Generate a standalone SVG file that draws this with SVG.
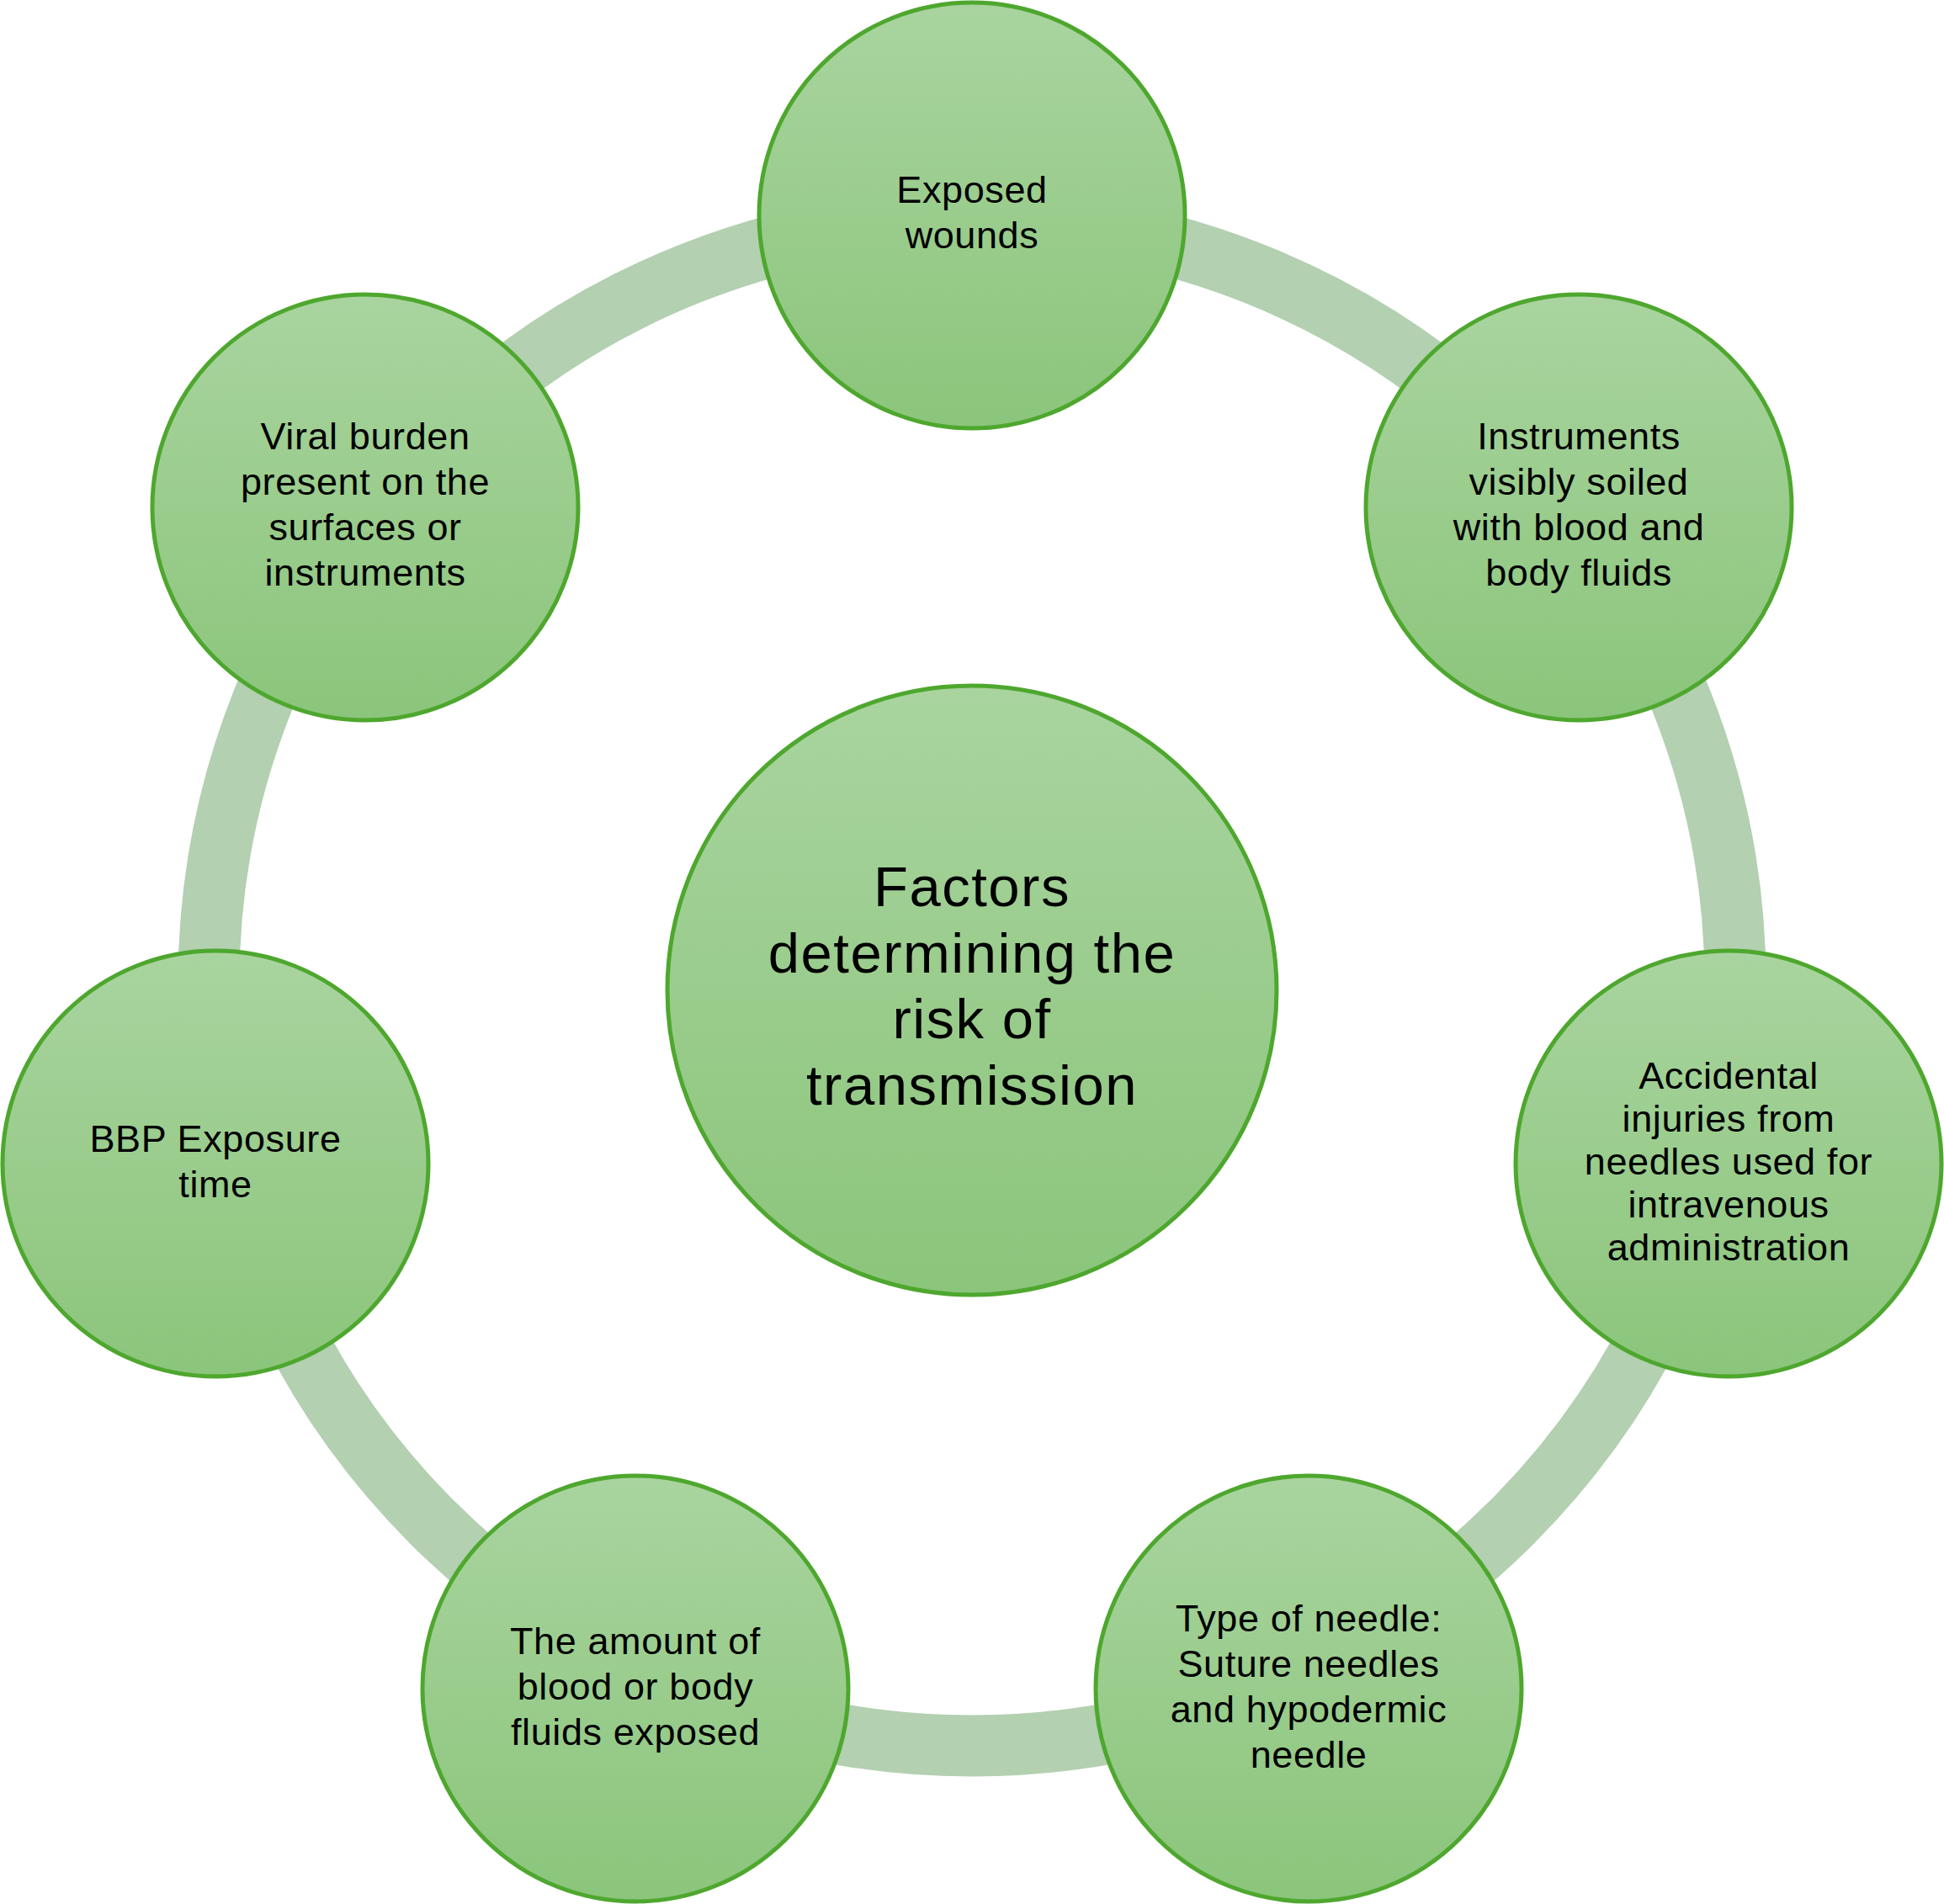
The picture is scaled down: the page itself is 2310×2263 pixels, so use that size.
<svg xmlns="http://www.w3.org/2000/svg" width="2310" height="2263" viewBox="0 0 2310 2263">
<defs>
<linearGradient id="g" x1="0" y1="0" x2="0" y2="1">
<stop offset="0" stop-color="#A9D49F"/>
<stop offset="1" stop-color="#8BC57B"/>
</linearGradient>
<style>
.node{fill:url(#g);stroke:#4EA72E;stroke-width:5}
.t{font-family:"Liberation Sans",Arial,sans-serif;font-size:45px;letter-spacing:0.6px;fill:#000;text-anchor:middle}
.c{font-size:67px;letter-spacing:1.5px}
.ring{fill:none;stroke:#B3D0B0;stroke-width:73}
</style>
</defs>
<rect width="2310" height="2263" fill="#fff"/>
<g id="connectors">
<circle class="ring" cx="1155" cy="1168" r="907"/>
</g>
<g id="center">
<circle class="node" cx="1155" cy="1177" r="362"/>
<text class="t c"><tspan x="1155" y="1077">Factors</tspan><tspan x="1155" y="1156">determining the</tspan><tspan x="1155" y="1234">risk of</tspan><tspan x="1155" y="1313">transmission</tspan></text>
</g>
<g id="n1">
<circle class="node" cx="1155" cy="256" r="253"/>
<text class="t"><tspan x="1155" y="241">Exposed</tspan><tspan x="1155" y="295">wounds</tspan></text>
</g>
<g id="n2">
<circle class="node" cx="1876" cy="603" r="253"/>
<text class="t"><tspan x="1876" y="534">Instruments</tspan><tspan x="1876" y="588">visibly soiled</tspan><tspan x="1876" y="642">with blood and</tspan><tspan x="1876" y="696">body fluids</tspan></text>
</g>
<g id="n3">
<circle class="node" cx="2054" cy="1383" r="253"/>
<text class="t"><tspan x="2054" y="1294">Accidental</tspan><tspan x="2054" y="1345">injuries from</tspan><tspan x="2054" y="1396">needles used for</tspan><tspan x="2054" y="1447">intravenous</tspan><tspan x="2054" y="1498">administration</tspan></text>
</g>
<g id="n4">
<circle class="node" cx="1555" cy="2007" r="253"/>
<text class="t"><tspan x="1555" y="1939">Type of needle:</tspan><tspan x="1555" y="1993">Suture needles</tspan><tspan x="1555" y="2047">and hypodermic</tspan><tspan x="1555" y="2101">needle</tspan></text>
</g>
<g id="n5">
<circle class="node" cx="755" cy="2007" r="253"/>
<text class="t"><tspan x="755" y="1966">The amount of</tspan><tspan x="755" y="2020">blood or body</tspan><tspan x="755" y="2074">fluids exposed</tspan></text>
</g>
<g id="n6">
<circle class="node" cx="256" cy="1383" r="253"/>
<text class="t"><tspan x="256" y="1369">BBP Exposure</tspan><tspan x="256" y="1423">time</tspan></text>
</g>
<g id="n7">
<circle class="node" cx="434" cy="603" r="253"/>
<text class="t"><tspan x="434" y="534">Viral burden</tspan><tspan x="434" y="588">present on the</tspan><tspan x="434" y="642">surfaces or</tspan><tspan x="434" y="696">instruments</tspan></text>
</g>
</svg>
